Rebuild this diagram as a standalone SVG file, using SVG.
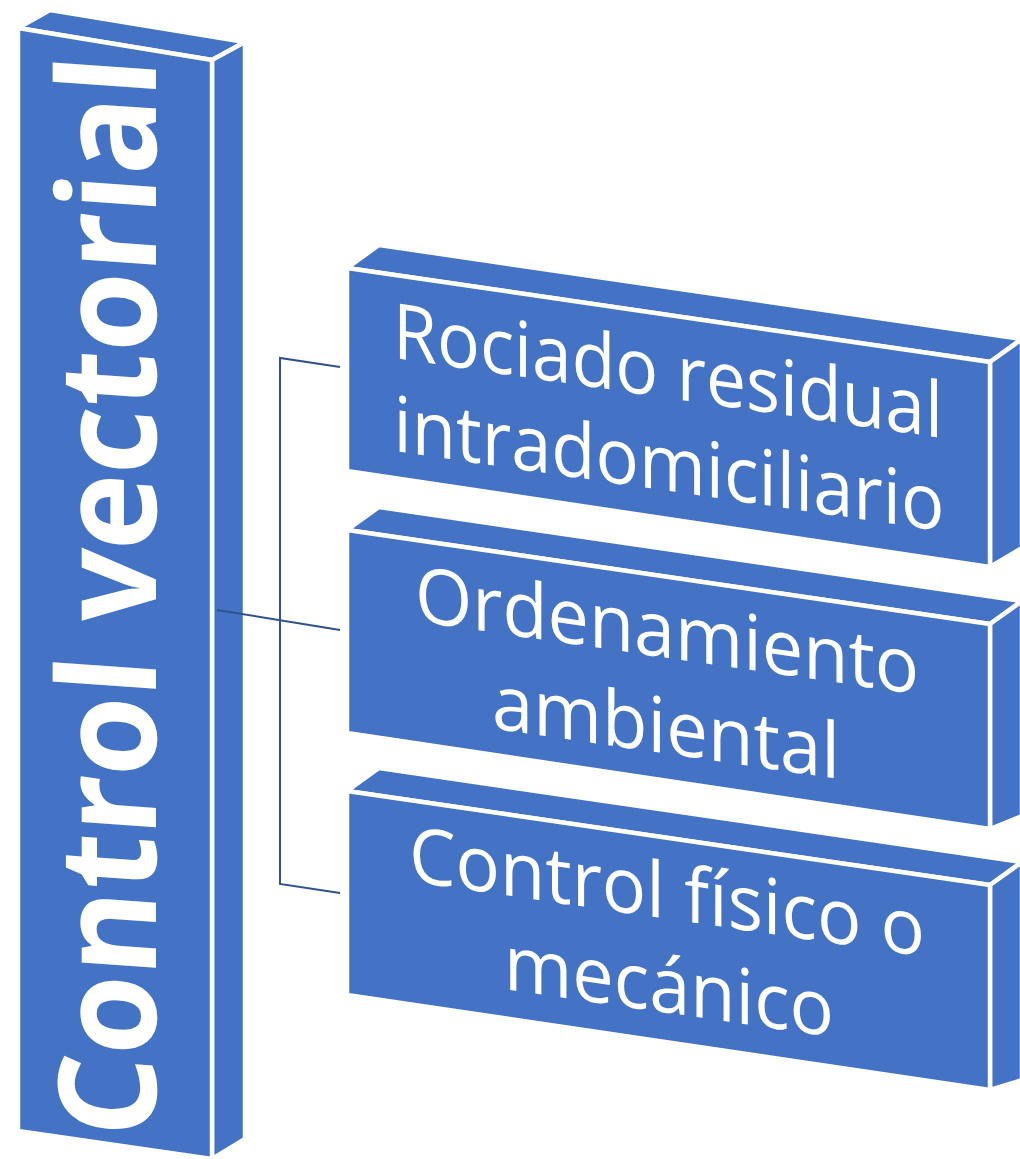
<svg xmlns="http://www.w3.org/2000/svg" width="1020" height="1159" viewBox="0 0 1020 1159">
<style>
.face{fill:#4472C4;stroke:#FFFFFF;stroke-width:4.5;stroke-linejoin:round}
.lbl{fill:#FFFFFF;font-family:"Open Sans","Liberation Sans",sans-serif;font-size:77px;text-anchor:middle}
.big{fill:#FFFFFF;font-family:"Open Sans","Liberation Sans",sans-serif;font-size:136px;font-weight:bold}
.conn{fill:none;stroke:#2F528F;stroke-width:2}
</style>
<rect width="1020" height="1159" fill="#FFFFFF"/>
<g id="node-control-vectorial">
<polygon class="face" points="18,28 50,10 245,42 212,60"/>
<polygon class="face" points="212,60 245,42 245,1139 212,1159"/>
<polygon class="face" points="18,28 212,60 212,1159 18,1131"/>
<text class="big" transform="translate(18,28) matrix(1,0.07,0,1,0,0) translate(138,1097) rotate(-90)" x="-5" y="0" textLength="1080" lengthAdjust="spacingAndGlyphs">Control vectorial</text>
</g>
<g id="node-rociado">
<polygon class="face" points="347,268 379,245 1022,339 990,362"/>
<polygon class="face" points="990,362 1022,339 1022,548 990,567"/>
<polygon class="face" points="347,268 990,362 990,567 347,471"/>
<g transform="translate(347,268) matrix(1,0.146,0,1,0,0)">
<text class="lbl" x="321" y="83" textLength="550" lengthAdjust="spacingAndGlyphs">Rociado residual</text>
<text class="lbl" x="322" y="176" textLength="551" lengthAdjust="spacingAndGlyphs">intradomiciliario</text>
</g>
</g>
<g id="node-ordenamiento">
<polygon class="face" points="347,530 379,507 1022,601 990,624"/>
<polygon class="face" points="990,624 1022,601 1022,816 990,829"/>
<polygon class="face" points="347,530 990,624 990,829 347,733"/>
<g transform="translate(347,530) matrix(1,0.146,0,1,0,0)">
<text class="lbl" x="320" y="81" textLength="504" lengthAdjust="spacingAndGlyphs">Ordenamiento</text>
<text class="lbl" x="319" y="177" textLength="348" lengthAdjust="spacingAndGlyphs">ambiental</text>
</g>
</g>
<g id="node-control-fisico">
<polygon class="face" points="347,791 379,768 1022,862 990,885"/>
<polygon class="face" points="990,885 1022,862 1022,1080 990,1090"/>
<polygon class="face" points="347,791 990,885 990,1090 347,995"/>
<g transform="translate(347,791) matrix(1,0.146,0,1,0,0)">
<text class="lbl" x="320" y="81" textLength="516" lengthAdjust="spacingAndGlyphs">Control físico o</text>
<text class="lbl" x="322" y="175" textLength="330" lengthAdjust="spacingAndGlyphs">mecánico</text>
</g>
</g>
<g id="connectors">
<path class="conn" d="M340,367 L280,358 L280,884 L340,893"/>
<path class="conn" d="M217,610 L340,630"/>
</g>
</svg>
